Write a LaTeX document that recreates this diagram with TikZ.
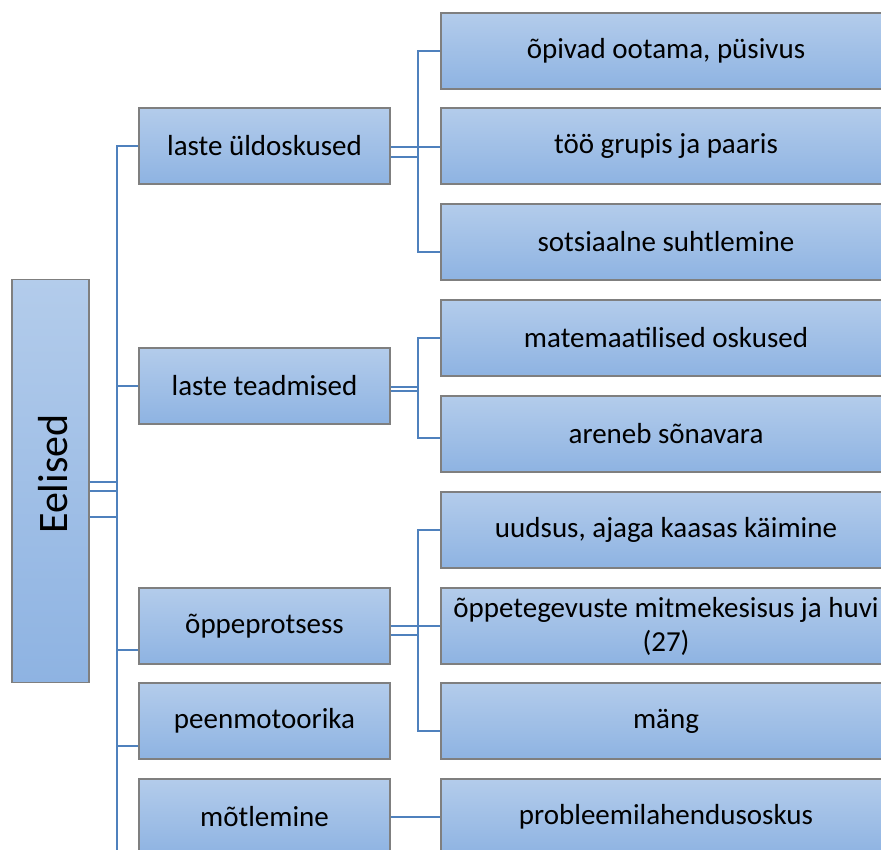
\documentclass[tikz,border=0pt]{standalone}
\usepackage{fontspec}
\setmainfont{Carlito}
\definecolor{connc}{HTML}{4F81BD}
\definecolor{boxtop}{HTML}{B3CCEB}
\definecolor{boxbot}{HTML}{8EB3E2}
\definecolor{boxline}{HTML}{7F7F7F}
\begin{document}
\begin{tikzpicture}[x=1pt,y=-1pt,
  box/.style={draw=boxline, line width=1.3pt, top color=boxtop, bottom color=boxbot,
    inner sep=0pt, font=\fontsize{29}{34}\selectfont, align=center},
  lvone/.style={box, minimum width=251pt, minimum height=76pt},
  lvtwo/.style={box, minimum width=450pt, minimum height=76pt},
  conn/.style={draw=connc, line width=2.6pt}]
\useasboundingbox (0,0) rectangle (881,850);
\clip (0,0) rectangle (881,850);

% root
\node[box, minimum width=77pt, minimum height=403pt] (root) at (50.5,481) {};
\node[rotate=90, font=\fontsize{42}{50}\selectfont] (rootlbl) at (53,474) {Eelised};

% level 1
\node[lvone] (A1) at (264.5,146) {laste üldoskused};
\node[lvone] (A2) at (264.5,386) {laste teadmised};
\node[lvone] (A3) at (264.5,626) {õppeprotsess};
\node[lvone] (A4) at (264.5,721) {peenmotoorika};
\node[lvone] (A5) at (264.5,817) {mõtlemine};

% level 2
\node[lvtwo] (B1) at (666,51) {õpivad ootama, püsivus};
\node[lvtwo] (B2) at (666,146) {töö grupis ja paaris};
\node[lvtwo] (B3) at (666,242) {sotsiaalne suhtlemine};
\node[lvtwo] (B4) at (666,338) {matemaatilised oskused};
\node[lvtwo] (B5) at (666,434) {areneb sõnavara};
\node[lvtwo] (B6) at (666,530) {uudsus, ajaga kaasas käimine};
\node[lvtwo] (B7) at (666,626) {õppetegevuste mitmekesisus ja huvi\\(27)};
\node[lvtwo] (B8) at (666,721) {mäng};
\node[lvtwo] (B9) at (666,817) {probleemilahendusoskus};

% trunk
\coordinate (trtop) at (117,146);
\coordinate (trbot) at (117,870);
\draw[conn] (A1.west) -- (trtop) -- (trbot);
\draw[conn] (A2.west) -- (A2.west -| trtop);
\draw[conn] ([yshift=-24pt]A3.west) -- ([yshift=-24pt]A3.west -| trtop);
\draw[conn] ([yshift=-25pt]A4.west) -- ([yshift=-25pt]A4.west -| trtop);
\draw[conn] ([yshift=-38pt]A5.west) -- ([yshift=-38pt]A5.west -| trtop);
\draw[conn] ([yshift=-1pt]root.east) -- ([yshift=-1pt]root.east -| trtop);
\draw[conn] ([yshift=-10pt]root.east) -- ([yshift=-10pt]root.east -| trtop);
\draw[conn] ([yshift=-36pt]root.east) -- ([yshift=-36pt]root.east -| trtop);

% group 1
\coordinate (s1) at (418,252);
\draw[conn] ([yshift=-1pt]A1.east) -- ([yshift=-1pt]B2.west);
\draw[conn] ([yshift=-11pt]A1.east) -- ([yshift=-11pt]A1.east -| s1);
\draw[conn] (B1.west) -| (s1) -- ([yshift=-10pt]B3.west);

% group 2
\coordinate (s2) at (418,438);
\draw[conn] ([yshift=-1pt]A2.east) -- ([yshift=-1pt]A2.east -| s2);
\draw[conn] ([yshift=-5pt]A2.east) -- ([yshift=-5pt]A2.east -| s2);
\draw[conn] (B4.west) -| (s2) -- ([yshift=-4pt]B5.west);

% group 3
\coordinate (s3) at (418,731);
\draw[conn] (A3.east) -- (B7.west);
\draw[conn] ([yshift=-9pt]A3.east) -- ([yshift=-9pt]A3.east -| s3);
\draw[conn] (B6.west) -| (s3) -- ([yshift=-10pt]B8.west);

% group 5
\draw[conn] (A5.east) -- (B9.west);
\end{tikzpicture}
\end{document}
